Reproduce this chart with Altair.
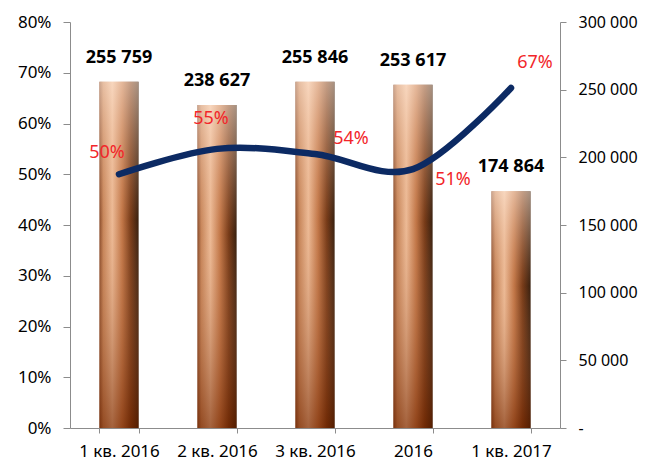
import altair as alt
import pandas as pd

categories = ["1 кв. 2016", "2 кв. 2016", "3 кв. 2016", "2016", "1 кв. 2017"]
volumes = [255759, 238627, 255846, 253617, 174864]
volume_labels = ["255 759", "238 627", "255 846", "253 617", "174 864"]
shares = [0.50, 0.55, 0.54, 0.51, 0.67]
share_labels = ["50%", "55%", "54%", "51%", "67%"]
left_ticks = [0, 0.1, 0.2, 0.3, 0.4, 0.5, 0.6, 0.7, 0.8]
right_ticks = [0, 50000, 100000, 150000, 200000, 250000, 300000]

df = pd.DataFrame({
    "cat": categories,
    "vol": volumes,
    "vlabel": volume_labels,
    "share": shares,
    "slabel": share_labels,
    "idx": list(range(len(categories))),
})

FONT = "Noto Sans"
AXIS_GRAY = "#8c8c8c"

xscale = alt.Scale(paddingInner=0.6, paddingOuter=0.3)
x_axis = alt.Axis(orient="bottom", labelAngle=0, tickBand="extent", tickSize=5,
                  labelPadding=10, labelFontSize=17, domainColor=AXIS_GRAY,
                  tickColor=AXIS_GRAY, labelColor="black", labelFont=FONT, title=None)
x_enc = alt.X("cat:N", sort=categories, scale=xscale, title=None, axis=x_axis)

yr_scale = alt.Scale(domain=[0, 300000], nice=False)
yr_axis = alt.Axis(
    orient="right", values=right_ticks, title=None, tickSize=6, labelPadding=12,
    labelExpr="datum.value == 0 ? '-' : replace(format(datum.value, ','), ',', ' ')",
    labelFontSize=16, labelFont=FONT, labelColor="black",
    domainColor=AXIS_GRAY, tickColor=AXIS_GRAY,
)
yr_enc = alt.Y("vol:Q", scale=yr_scale, axis=yr_axis, title=None)

grad_h = alt.LinearGradient(
    gradient="linear", x1=0, x2=1, y1=0, y2=0,
    stops=[
        alt.GradientStop(offset=0.0, color="#7e4020"),
        alt.GradientStop(offset=0.1, color="#c48256"),
        alt.GradientStop(offset=0.33, color="#edbc98"),
        alt.GradientStop(offset=0.58, color="#bd7040"),
        alt.GradientStop(offset=0.8, color="#6a2e0c"),
        alt.GradientStop(offset=1.0, color="#241002"),
    ],
)
grad_v = alt.LinearGradient(
    gradient="linear", x1=0, x2=0, y1=0, y2=1,
    stops=[
        alt.GradientStop(offset=0.0, color="rgba(255,232,215,0.6)"),
        alt.GradientStop(offset=0.4, color="rgba(230,170,130,0.1)"),
        alt.GradientStop(offset=1.0, color="rgba(115,38,0,0.6)"),
    ],
)

base = alt.Chart(df)

bars = base.mark_bar(color=grad_h).encode(x=x_enc, y=yr_enc)
bars_shade = base.mark_bar(color=grad_v).encode(x=x_enc, y=yr_enc)
bar_text = base.mark_text(
    font=FONT, fontSize=18, fontWeight="bold", color="black", dy=-24, baseline="middle"
).encode(x=x_enc, y=yr_enc, text="vlabel:N")

bar_group = alt.layer(bars, bars_shade, bar_text)

yl_scale = alt.Scale(domain=[0, 0.8], nice=False)
yl_axis = alt.Axis(
    orient="left", values=left_ticks, format=".0%", title=None, tickSize=7,
    labelPadding=12, labelFontSize=17, labelFont=FONT, labelColor="black",
    domainColor=AXIS_GRAY, tickColor=AXIS_GRAY,
)
yl_enc = alt.Y("share:Q", scale=yl_scale, axis=yl_axis, title=None)

line = base.mark_line(
    color="#0c2a63", strokeWidth=6.5, interpolate="cardinal", strokeCap="round"
).encode(x=x_enc, y=yl_enc)

# label placement (style): offsets of each percentage label from its point
label_offsets = [(-12, -21), (-6, -30), (36, -15), (40, 11), (24, -25)]
pct_layers = []
for i, (ddx, ddy) in enumerate(label_offsets):
    pct_layers.append(
        base.transform_filter(alt.datum.idx == i).mark_text(
            font=FONT, fontSize=18, color="#f2262a", dx=ddx, dy=ddy, baseline="middle"
        ).encode(x=x_enc, y=yl_enc, text="slabel:N")
    )

line_group = alt.layer(line, *pct_layers)

chart = alt.layer(bar_group, line_group).resolve_scale(y="independent").properties(
    width=490, height=406,
    autosize=alt.AutoSizeParams(type="none"),
    padding={"left": 62, "top": 14, "right": 82, "bottom": 35},
    background="white",
).configure_view(stroke=None).configure_axis(grid=False)

chart.save("out.html", embed_options={"renderer": "svg", "actions": False})
